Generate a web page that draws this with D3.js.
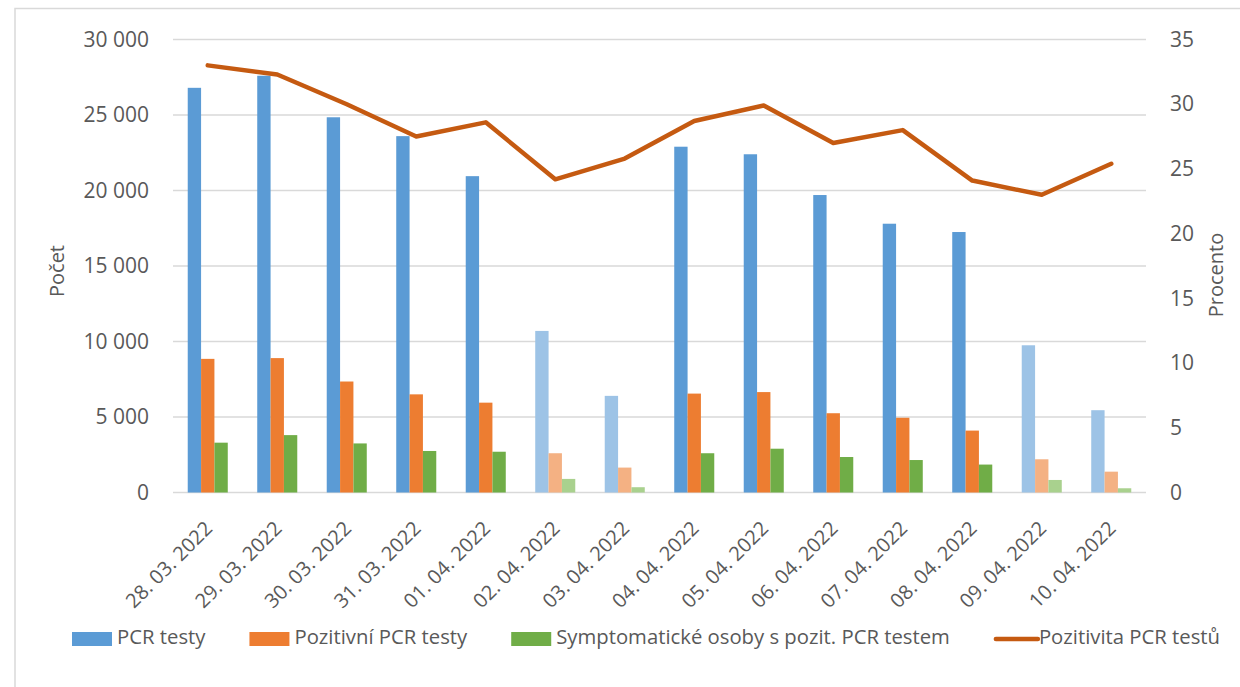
<!DOCTYPE html>
<html>
<head>
<meta charset="utf-8">
<script src="https://cdn.jsdelivr.net/npm/d3@7"></script>
<style>
    body { margin: 0; background: #fff; }
    text { font-family: "Open Sans", sans-serif; fill: #595959; }
</style>
</head>
<body>
<div id="chart"></div>
<script>
var dates = ["28. 03. 2022", "29. 03. 2022", "30. 03. 2022", "31. 03. 2022", "01. 04. 2022",
    "02. 04. 2022", "03. 04. 2022", "04. 04. 2022", "05. 04. 2022", "06. 04. 2022",
    "07. 04. 2022", "08. 04. 2022", "09. 04. 2022", "10. 04. 2022"];
var pcrTests = [26800, 27600, 24850, 23600, 20950, 10700, 6400, 22900, 22400, 19700, 17800, 17250, 9750, 5450];
var positiveTests = [8850, 8900, 7350, 6500, 5950, 2600, 1650, 6550, 6650, 5250, 4950, 4100, 2200, 1380];
var symptomatic = [3300, 3800, 3250, 2750, 2700, 900, 350, 2600, 2900, 2350, 2150, 1850, 830, 280];
var positivity = [33.0, 32.3, 30.0, 27.5, 28.6, 24.2, 25.8, 28.7, 29.9, 27.0, 28.0, 24.1, 23.0, 25.4];
var weekendDays = ["02. 04. 2022", "03. 04. 2022", "09. 04. 2022", "10. 04. 2022"];
var leftTicks = [0, 5000, 10000, 15000, 20000, 25000, 30000];
var rightTicks = [0, 5, 10, 15, 20, 25, 30, 35];
var seriesNames = ["PCR testy", "Pozitivní PCR testy", "Symptomatické osoby s pozit. PCR testem", "Pozitivita PCR testů"];

function main() {
    // set the dimensions and margins of the graph
    var margin = { top: 39.5, right: 94, bottom: 194.5, left: 173 },
        width = 1240 - margin.left - margin.right,
        height = 687 - margin.top - margin.bottom;

    var colors = ["#5b9bd5", "#ed7d31", "#70ad47"];
    var lightColors = ["#9dc3e6", "#f4b183", "#a9d18e"];
    var lineColor = "#c55a11";

    var root = d3.select("#chart")
        .append("svg")
        .attr("width", 1240)
        .attr("height", 687);

    // outer frame (only top and left edges visible)
    root.append("path")
        .attr("d", "M15,687V8.5H1240")
        .attr("fill", "none")
        .attr("stroke", "#d9d9d9")
        .attr("stroke-width", 1.5);

    var svg = root.append("g")
        .attr("transform", "translate(" + margin.left + "," + margin.top + ")");

    var x0 = d3.scaleBand()
        .domain(dates)
        .range([0, width])
        .paddingInner(0.424)
        .paddingOuter(0.212);

    var x1 = d3.scaleBand()
        .domain([0, 1, 2])
        .range([0, x0.bandwidth()]);

    var y = d3.scaleLinear().domain([0, 30000]).range([height, 0]);
    var yRight = d3.scaleLinear().domain([0, 35]).range([height, 0]);

    var fmt = d3.formatLocale({ decimal: ",", thousands: "\u00a0", grouping: [3], currency: ["", ""] }).format(",d");

    // grid lines
    svg.append("g")
        .selectAll("line")
        .data(leftTicks)
        .enter()
        .append("line")
        .attr("x1", 0)
        .attr("x2", width)
        .attr("y1", function (d) { return y(d); })
        .attr("y2", function (d) { return y(d); })
        .attr("stroke", "#d9d9d9")
        .attr("stroke-width", 1.3);

    // left axis
    var leftAxis = svg.append("g")
        .attr("transform", "translate(-24,0)")
        .call(d3.axisLeft(y).tickValues(leftTicks).tickFormat(fmt).tickSize(0).tickPadding(0));
    leftAxis.select(".domain").remove();
    leftAxis.selectAll("text")
        .style("font-size", "21px")
        .attr("fill", "#595959");

    // right axis
    var rightAxis = svg.append("g")
        .attr("transform", "translate(" + (width + 24) + ",0)")
        .call(d3.axisRight(yRight).tickValues(rightTicks).tickSize(0).tickPadding(0));
    rightAxis.select(".domain").remove();
    rightAxis.selectAll("text")
        .style("font-size", "21px")
        .attr("fill", "#595959");

    // x labels
    svg.append("g")
        .selectAll("text")
        .data(dates)
        .enter()
        .append("text")
        .attr("text-anchor", "end")
        .attr("dominant-baseline", "middle")
        .style("font-size", "20px")
        .attr("transform", function (d) {
            return "translate(" + (x0(d) + x0.bandwidth() / 2 + 2) + "," + (height + 33.5) + ")rotate(-45)";
        })
        .text(function (d) { return d; });

    // axis titles
    svg.append("text")
        .attr("transform", "translate(" + (59 - margin.left) + "," + (271 - margin.top) + ")rotate(-90)")
        .attr("text-anchor", "middle")
        .attr("dominant-baseline", "middle")
        .style("font-size", "20px")
        .text("Počet");

    svg.append("text")
        .attr("transform", "translate(" + (1218 - margin.left) + "," + (275 - margin.top) + ")rotate(-90)")
        .attr("text-anchor", "middle")
        .attr("dominant-baseline", "middle")
        .style("font-size", "20px")
        .text("Procento");

    // Bars
    var barSeries = [pcrTests, positiveTests, symptomatic];
    var groups = svg.append("g")
        .selectAll("g")
        .data(dates)
        .enter()
        .append("g")
        .attr("transform", function (d) { return "translate(" + x0(d) + ",0)"; });

    groups.selectAll("rect")
        .data(function (d, i) {
            var light = weekendDays.indexOf(d) >= 0;
            return barSeries.map(function (s, k) { return { k: k, value: s[i], light: light }; });
        })
        .enter()
        .append("rect")
        .attr("x", function (d) { return x1(d.k); })
        .attr("y", function (d) { return y(d.value); })
        .attr("width", x1.bandwidth())
        .attr("height", function (d) { return height - y(d.value); })
        .attr("fill", function (d) { return d.light ? lightColors[d.k] : colors[d.k]; });

    // Line
    var line = d3.line()
        .x(function (d, i) { return x0(dates[i]) + x0.bandwidth() / 2; })
        .y(function (d) { return yRight(d); });

    svg.append("path")
        .datum(positivity)
        .attr("fill", "none")
        .attr("stroke", lineColor)
        .attr("stroke-width", 4.5)
        .attr("stroke-linejoin", "round")
        .attr("stroke-linecap", "round")
        .attr("d", line);

    // Legend
    var legend = root.append("g").attr("transform", "translate(0,639)");
    var lx = 72;
    seriesNames.forEach(function (name, k) {
        if (k < 3) {
            legend.append("rect")
                .attr("x", lx)
                .attr("y", -7)
                .attr("width", 40)
                .attr("height", 14)
                .attr("fill", colors[k]);
        } else {
            legend.append("line")
                .attr("x1", lx + 2)
                .attr("x2", lx + 44)
                .attr("y1", 0)
                .attr("y2", 0)
                .attr("stroke", lineColor)
                .attr("stroke-width", 4.5)
                .attr("stroke-linecap", "round");
        }
        var t = legend.append("text")
            .attr("x", lx + 45)
            .attr("y", 0)
            .attr("dominant-baseline", "middle")
            .style("font-size", "20.3px")
            .text(name);
        lx = lx + 45 + t.node().getComputedTextLength() + 44;
    });
}

main();
</script>
</body>
</html>
